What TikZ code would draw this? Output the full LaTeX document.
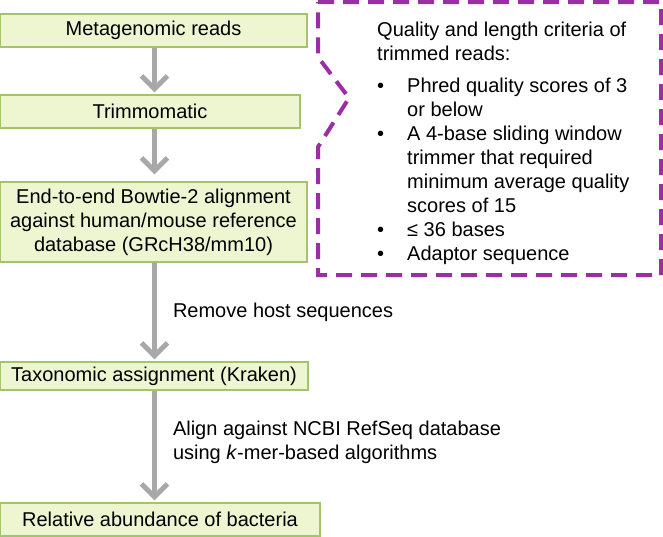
\documentclass[tikz,border=0pt]{standalone}
\usepackage{fontspec}
\setmainfont{Liberation Sans}
\usetikzlibrary{arrows.meta,positioning}

\definecolor{boxfill}{HTML}{EDF6D0}
\definecolor{boxline}{HTML}{A3C46A}
\definecolor{flowgray}{HTML}{A8A8A8}
\definecolor{notepurple}{RGB}{155,45,165}

\begin{document}
\begin{tikzpicture}[
  x=1pt,
  y=-1pt,
  font=\fontsize{20}{24}\selectfont,
  stage/.style={
    draw=boxline,
    fill=boxfill,
    line width=1.2pt,
    inner sep=0pt,
    minimum height=33pt,
    align=center
  },
  flow/.style={
    draw=flowgray,
    line width=5pt,
    -{Straight Barb[length=13pt,width=26pt]},
    shorten >=2pt
  },
  callout/.style={
    draw=notepurple,
    line width=4pt,
    dash pattern=on 16pt off 9pt
  },
  note/.style={
    inner sep=0pt,
    align=left
  },
]
\useasboundingbox (0,0) rectangle (663,536);

\node[stage, minimum width=307pt] (reads) at (153.5,30.5) {Metagenomic reads};
\node[stage, minimum width=300pt] (trim) at (150,111.5) {Trimmomatic};
\node[stage, minimum width=307pt, minimum height=80pt] (bowtie) at (153.5,222)
  {End-to-end Bowtie-2 alignment\\against human/mouse reference\\database (GRcH38/mm10)};
\node[stage, minimum width=308pt, minimum height=28pt] (kraken) at (154,376)
  {Taxonomic assignment (Kraken)};
\node[stage, minimum width=320pt] (abund) at (160,519.5) {Relative abundance of bacteria};

\coordinate (spine) at (154.5,0);
\draw[flow] (spine |- reads.south) -- (spine |- trim.north);
\draw[flow, shorten >=7pt] (spine |- trim.south) -- (spine |- bowtie.north);
\draw[flow] (spine |- bowtie.south) -- (spine |- kraken.north)
  node[note, midway, right=16pt] (host) {Remove host sequences};
\draw[flow] (spine |- kraken.south) -- (spine |- abund.north)
  node[note, midway, right=16pt, yshift=4pt] (refseq)
  {Align against NCBI RefSeq database\\using \textit{k}-mer-based algorithms};

\draw[callout] (318,2) -- (661,2) -- (661,275) -- (318,275) -- (318,147)
  -- (349,98) -- (318,57) -- cycle;
\node[note, anchor=north west] (criteria) at (377,22)
  {Quality and length criteria of\\trimmed reads:\\[8pt]
   \makebox[30pt][l]{\textbullet}Phred quality scores of 3\\
   \hspace*{30pt}or below\\
   \makebox[30pt][l]{\textbullet}A 4-base sliding window\\
   \hspace*{30pt}trimmer that required\\
   \hspace*{30pt}minimum average quality\\
   \hspace*{30pt}scores of 15\\
   \makebox[30pt][l]{\textbullet}≤ 36 bases\\
   \makebox[30pt][l]{\textbullet}Adaptor sequence};
\end{tikzpicture}
\end{document}
